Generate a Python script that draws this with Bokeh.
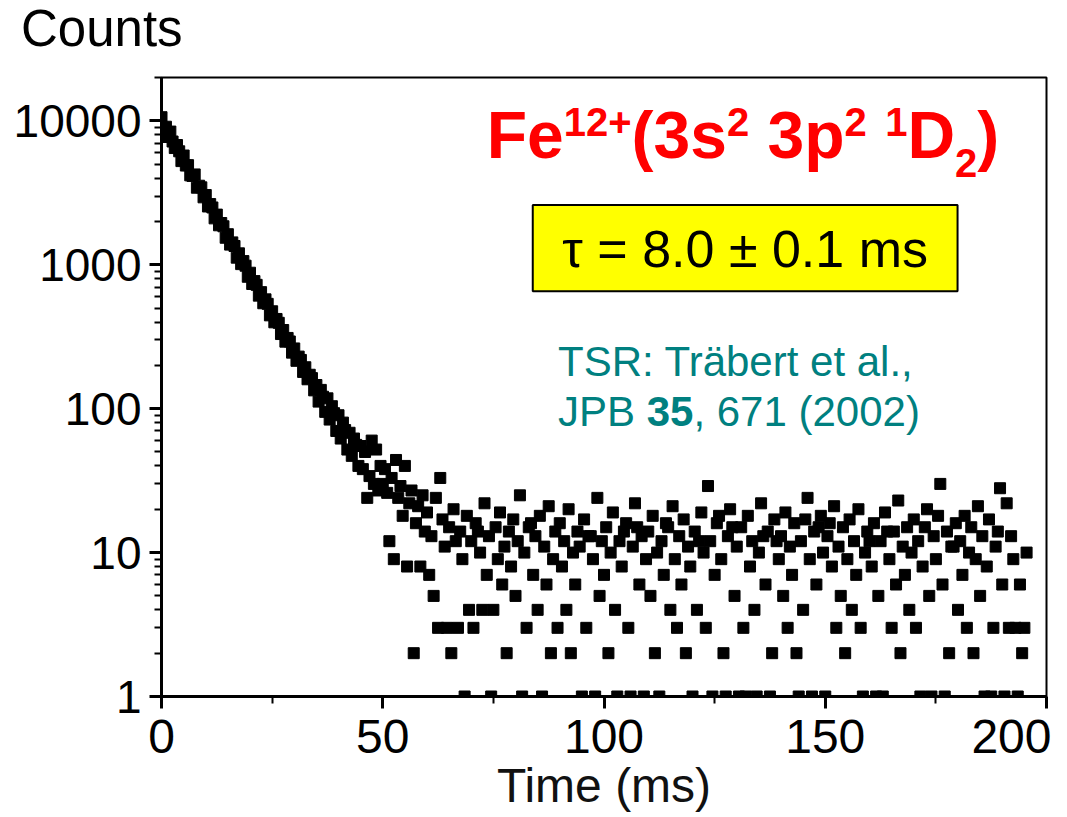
from bokeh.plotting import figure
from bokeh.layouts import column
from bokeh.models import Label, BoxAnnotation, CustomJSTickFormatter, FixedTicker, Range1d, Div
from bokeh.embed import file_html
from bokeh.resources import INLINE

# ---------------- data ----------------
bin_width_ms = 0.5

# counts per 0.5 ms bin, t = 0 ... 49.5 ms
counts_decay = [
    10600, 8950, 9100, 7720, 8420, 7180, 6470, 6790, 6140, 5250,
    5740, 4890, 4920, 4180, 4140, 4240, 3430, 3540, 3450, 2940,
    3050, 2540, 2640, 2500, 2100, 2230, 1880, 1950, 1850, 1540,
    1630, 1380, 1430, 1350, 1120, 1200, 1010, 1060, 985, 825,
    880, 735, 770, 725, 610, 645, 540, 575, 535, 445,
    475, 398, 420, 395, 330, 352, 292, 310, 293, 245,
    262, 215, 230, 218, 180, 194, 160, 172, 163, 134,
    146, 112, 135, 121, 95, 118, 84, 104, 93, 70,
    90, 62, 80, 71, 52, 68, 47, 62, 56, 40,
    55, 38, 50, 24, 34, 60, 30, 52, 27, 40,
]

# counts per 0.5 ms bin, t = 50.0 ... 195.5 ms
counts_tail = [
    30, 38, 26, 12, 33, 9, 44, 24, 29, 18, 40, 8, 22, 27, 2, 16, 21, 8, 25, 14,
    19, 7, 13, 5, 24, 3, 33, 17, 11, 3, 15, 2, 20, 12, 3, 14, 9, 1, 18, 4,
    12, 3, 16, 14, 10, 4, 22, 7, 13, 1, 4, 15, 9, 19, 6, 11, 2, 14, 8, 17,
    5, 12, 25, 1, 10, 3, 15, 16, 7, 13, 4, 18, 1, 11, 6, 21, 2, 9, 14, 3,
    16, 8, 12, 4, 20, 2, 10, 6, 14, 11, 1, 17, 3, 13, 13, 9, 1, 24, 5, 12,
    7, 15, 2, 10, 19, 4, 1, 12, 8, 14, 16, 3, 1, 11, 22, 15, 6, 13, 1, 9,
    14, 5, 18, 2, 10, 1, 12, 7, 16, 15, 4, 21, 9, 3, 13, 6, 17, 2, 11, 8,
    1, 14, 4, 12, 19, 10, 3, 29, 12, 1, 7, 16, 18, 9, 2, 1, 13, 20, 15, 5,
    11, 1, 15, 3, 1, 18, 8, 12, 4, 1, 10, 22, 13, 6, 14, 1, 2, 17, 12, 9,
    13, 5, 19, 3, 11, 7, 16, 2, 1, 12, 4, 17, 24, 9, 1, 14, 6, 15, 18, 10,
    1, 13, 16, 8, 21, 3, 11, 5, 15, 2, 9, 17, 4, 12, 7, 20, 3, 1, 10, 14,
    12, 8, 16, 1, 5, 12, 1, 19, 14, 9, 3, 14, 6, 23, 2, 11, 7, 15, 4, 10,
    17, 3, 12, 1, 8, 15, 20, 5, 1, 13, 9, 18, 30, 6, 1, 14, 2, 11, 11, 16,
    4, 12, 7, 18, 3, 10, 15, 2, 9, 21, 5, 13, 1, 8, 17, 1, 3, 11, 14, 28,
    6, 1, 22, 3, 13, 9, 3, 1, 6, 2, 3, 10,
]

x_limits = (0, 200)
y_limits = (1, 20000)
x_major_ticks = [0, 50, 100, 150, 200]
x_minor_ticks = [25, 75, 125, 175]
y_major_ticks = [1, 10, 100, 1000, 10000]

counts = counts_decay + counts_tail
times = [i * bin_width_ms for i in range(len(counts))]

FONT = "Liberation Sans"
BASE_SHIFT = 0.36   # raise labels so their alphabetic baseline sits on the anchor
W = 1051
HEAD_H = 60
MAIN_H = 755

# ---------------- header strip holding the "Counts" axis caption ----------------
head = Div(width=W, height=HEAD_H, margin=0,
           text=('<div style="position:absolute; left:21px; top:3px; '
                 'font-family:\'Liberation Sans\', Arial, sans-serif; font-size:51px; '
                 'line-height:1; color:#000; white-space:nowrap;">Counts</div>'))

# ---------------- main figure ----------------
p = figure(width=W, height=MAIN_H, y_axis_type="log",
           x_range=Range1d(*x_limits), y_range=Range1d(*y_limits),
           output_backend="svg", toolbar_location=None, title=None,
           min_border_left=161, min_border_right=5,
           min_border_top=17, min_border_bottom=119)
p.margin = 0
p.background_fill_color = "white"
p.border_fill_color = "white"
p.xgrid.visible = False
p.ygrid.visible = False
p.outline_line_color = "black"
p.outline_line_width = 2
p.outline_line_alpha = 1

p.scatter(times, counts, marker="square", size=11, color="black")

# axes
for ax in (p.xaxis[0], p.yaxis[0]):
    ax.axis_line_width = 3
    ax.axis_line_color = "black"
    ax.major_tick_line_width = 3
    ax.minor_tick_line_width = 2
    ax.major_tick_line_color = "black"
    ax.minor_tick_line_color = "black"
    ax.major_tick_in = 0
    ax.minor_tick_in = 0
    ax.major_tick_out = 12
    ax.minor_tick_out = 7
    ax.major_label_text_font = FONT
    ax.major_label_text_color = "black"

p.xaxis.ticker = FixedTicker(ticks=x_major_ticks, minor_ticks=x_minor_ticks)
p.xaxis.major_label_text_font_size = "48px"
p.xaxis.major_label_standoff = 11
p.xaxis.axis_label = "Time (ms)"
p.xaxis.axis_label_text_font = FONT
p.xaxis.axis_label_text_font_size = "48px"
p.xaxis.axis_label_text_font_style = "normal"
p.xaxis.axis_label_text_color = "#111111"
p.xaxis.axis_label_standoff = 3

y_minor = [m * d for d in y_major_ticks[:-1] for m in range(2, 10)] + [20000]
p.yaxis.ticker = FixedTicker(ticks=y_major_ticks, minor_ticks=y_minor)
p.yaxis.formatter = CustomJSTickFormatter(code="return Math.round(tick).toString();")
p.yaxis.major_label_text_font_size = "46px"
p.yaxis.major_label_standoff = 8


def add_text(x, y, text, size, dx=0.0, dy=0.0, color="black", style="normal",
             align="left"):
    p.add_layout(Label(x=x, y=y, x_offset=dx, y_offset=dy + BASE_SHIFT * size,
                       text=text, text_font=FONT, text_font_size=f"{size}px",
                       text_font_style=style, text_color=color,
                       text_align=align, text_baseline="alphabetic"))


# ---------------- red level label with super/subscripts ----------------
bold_w = {'F': 0.611, 'e': 0.556, '1': 0.556, '2': 0.556, '+': 0.584, '(': 0.333,
          '3': 0.556, 's': 0.556, ' ': 0.278, 'p': 0.611, 'D': 0.722, ')': 0.333}
MAIN, SMALL = 66, 40
pieces = [("Fe", MAIN, 0), ("12+", SMALL, 23), ("(3s", MAIN, 0), ("2", SMALL, 23),
          (" 3p", MAIN, 0), ("2", SMALL, 23), (" ", MAIN, 0), ("1", SMALL, 23),
          ("D", MAIN, 0), ("2", SMALL, -18), (")", MAIN, 0)]
off = 0.0
for txt, size, dy in pieces:
    lead = len(txt) - len(txt.lstrip(" "))
    body = txt.strip(" ")
    if body:
        add_text(73.5, 5433, body, size, dx=off + lead * bold_w[' '] * size, dy=dy,
                 color="#ff0000", style="bold")
    off += sum(bold_w[c] for c in txt) * size

# ---------------- yellow lifetime box ----------------
p.add_layout(BoxAnnotation(left=83.9, right=179.9, bottom=653.6, top=2598,
                           fill_color="#ffff00", fill_alpha=1.0,
                           line_color="black", line_width=2, line_alpha=1.0))
add_text(131.9, 961, "τ = 8.0 ± 0.1 ms", 52, align="center")

# ---------------- teal reference ----------------
TEAL = "#008080"
add_text(89.6, 167, "TSR: Träbert et al.,", 42, color=TEAL)
reg_w = {'J': 0.5, 'P': 0.667, 'B': 0.667, ' ': 0.278, ',': 0.278, '(': 0.333, ')': 0.333}
ref_pieces = [("JPB", "normal", 1), ("35", "bold", 0), (", 671 (2002)", "normal", 0)]
off = 0.0
for txt, style, trail in ref_pieces:
    add_text(89.6, 75, txt, 42, dx=off, color=TEAL, style=style)
    off += (sum(reg_w.get(c, 0.556) for c in txt) + trail * 0.278) * 42

layout = column(head, p, spacing=0)
open("out.html", "w").write(file_html(layout, INLINE))
